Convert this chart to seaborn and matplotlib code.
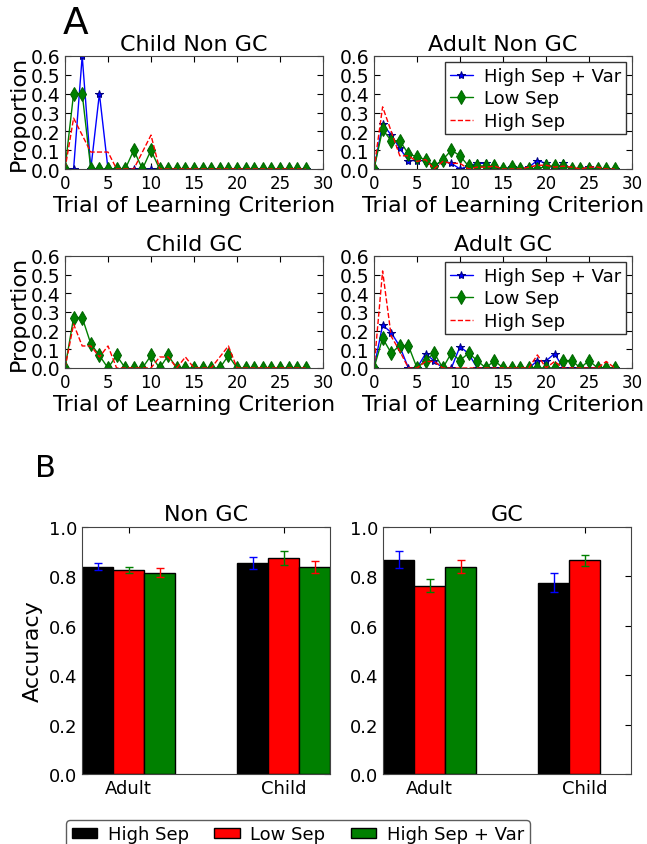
import matplotlib
matplotlib.use("Agg")
import matplotlib.pyplot as plt
from matplotlib.patches import Patch
import numpy as np
import pandas as pd
import seaborn as sns

sns.set_style("ticks", {"xtick.direction": "in", "ytick.direction": "in"})
plt.rcParams["font.family"] = ["DejaVu Sans"]
for k in ["text.color", "axes.labelcolor", "xtick.color", "ytick.color"]:
    plt.rcParams[k] = "black"

trials = list(range(29))

# panel A: proportion reaching criterion at each trial
child_nongc_hsv = [0, 0, .6, 0, .4, 0] + [0] * 23
child_nongc_low = [0, .4, .4, 0, 0, 0, 0, 0, .1, 0, .1] + [0] * 18
child_nongc_high = [0, .27, .18, .09, .09, .09, 0, 0, 0, .09, .18] + [0] * 18

adult_nongc_hsv = [0, .24, .18, .11, .045, .045, .045, .015, .045, .03, 0, .015, .03, .03, 0,
                   0, .01, 0, .01, .045, .03, 0, .03, 0, 0, .01, 0, 0, 0]
adult_nongc_low = [0, .21, .15, .15, .08, .065, .05, .015, .05, .1, .07, .015, .015, .015, .015,
                   0, .01, 0, 0, 0, .015, .015, .015, 0, 0, 0, 0, 0, 0]
adult_nongc_high = [0, .33, .2, .07, .07, .04, .05, 0, .04, .03, .03, 0, .01, .01, .015,
                    0, 0, 0, .01, .02, .02, .01, .015, .01, 0, .01, .01, 0, 0]

child_gc_low = [0, .27, .27, .13, .067, 0, .067, 0, 0, 0, .067, 0, .067, 0, 0,
                0, 0, 0, 0, .067, 0, 0, 0, 0, 0, 0, 0, 0, 0]
child_gc_high = [0, .235, .118, .118, .059, .118, 0, 0, 0, 0, 0, .059, .059, 0, .059,
                 0, 0, 0, .059, .118, 0, 0, 0, 0, 0, 0, 0, 0, 0]

adult_gc_hsv = [0, .23, .19, .115, 0, 0, .077, .038, 0, 0, .115, .077, 0, 0, 0,
                0, 0, 0, 0, .038, .038, .077, 0, 0, 0, 0, 0, 0, 0]
adult_gc_low = [0, .16, .08, .12, .12, 0, .04, .08, 0, .08, .04, .08, .04, 0, .04,
                0, 0, 0, 0, 0, 0, 0, .04, .04, 0, .04, 0, 0, 0]
adult_gc_high = [0, .52, .17, .09, 0, 0, .035, .035, 0, 0, 0, 0, 0, 0, 0,
                 0, 0, 0, 0, .07, 0, .035, 0, 0, 0, 0, 0, .035, 0]

# panel B: accuracy
groups = ["Adult", "Child"]
conditions = ["High Sep", "Low Sep", "High Sep + Var"]
nongc_acc = {"High Sep": [.84, .855], "Low Sep": [.825, .875], "High Sep + Var": [.815, .838]}
nongc_err = {"High Sep": [.015, .025], "Low Sep": [.013, .028], "High Sep + Var": [.018, .025]}
gc_acc = {"High Sep": [.868, .775], "Low Sep": [.763, .865], "High Sep + Var": [.84, np.nan]}
gc_err = {"High Sep": [.033, .038], "Low Sep": [.028, .022], "High Sep + Var": [.025, np.nan]}

bar_colors = {"High Sep": "black", "Low Sep": "red", "High Sep + Var": "green"}
err_colors = {"High Sep": "blue", "Low Sep": "green", "High Sep + Var": "red"}

W, H = 647, 845
fig = plt.figure(figsize=(W / 100, H / 100), dpi=100)


def px_axes(x0, y0, x1, y1):
    return fig.add_axes([x0 / W, 1 - y1 / H, (x1 - x0) / W, (y1 - y0) / H])


def style_box(ax):
    for s in ax.spines.values():
        s.set_visible(True)
        s.set_color("#444444")
    ax.tick_params(top=True, right=True, direction="in", labelsize=12, length=4)


line_panels = [
    ("Child Non GC", (65, 57, 323, 170), [child_nongc_hsv, child_nongc_low, child_nongc_high], False),
    ("Adult Non GC", (374, 57, 632, 170), [adult_nongc_hsv, adult_nongc_low, adult_nongc_high], True),
    ("Child GC", (65, 257, 323, 369), [None, child_gc_low, child_gc_high], False),
    ("Adult GC", (374, 257, 632, 369), [adult_gc_hsv, adult_gc_low, adult_gc_high], True),
]

for title, box, series, show_leg in line_panels:
    ax = px_axes(*box)
    hsv, low, high = series
    if hsv is not None:
        sns.lineplot(x=trials, y=hsv, ax=ax, color="blue", marker="*", markersize=6,
                     markeredgecolor="navy", linewidth=1, label="High Sep + Var")
    sns.lineplot(x=trials, y=low, ax=ax, color="green", marker="d", markersize=7,
                 markeredgecolor="darkgreen", linewidth=1, label="Low Sep")
    sns.lineplot(x=trials, y=high, ax=ax, color="red", linestyle="--", linewidth=1,
                 dashes=(6, 6), label="High Sep")
    ax.set_xlim(0, 30)
    ax.set_ylim(0, 0.6)
    ax.set_xticks(range(0, 31, 5))
    ax.set_yticks(np.arange(0, 0.61, 0.1))
    ax.set_yticklabels([f"{v:.1f}" for v in np.arange(0, 0.61, 0.1)])
    ax.set_title(title, fontsize=16, pad=4)
    ax.set_xlabel("Trial of Learning Criterion", fontsize=16, labelpad=2)
    if not show_leg:
        ax.set_ylabel("Proportion", fontsize=16, labelpad=1)
        ax.get_legend().remove()
    else:
        ax.legend(loc="upper right", fontsize=13, frameon=True, fancybox=False,
                  edgecolor="#333333", framealpha=1, borderpad=0.25, labelspacing=0.25,
                  handlelength=1.3, handletextpad=0.6, borderaxespad=0.35)
    style_box(ax)
    ax.tick_params(axis="y", labelsize=13.5)

fig.text(63 / W, 1 - 24 / H, "A", fontsize=27, va="center", ha="left")
fig.text(35 / W, 1 - 469 / H, "B", fontsize=22, va="center", ha="left")

bar_panels = [
    ("Non GC", (82, 528, 330, 775), nongc_acc, nongc_err, True),
    ("GC", (383, 528, 631, 775), gc_acc, gc_err, False),
]

for title, box, acc, err, first in bar_panels:
    ax = px_axes(*box)
    df = pd.DataFrame([(g, c, acc[c][i]) for c in conditions for i, g in enumerate(groups)],
                      columns=["group", "cond", "acc"])
    sns.barplot(data=df, x="group", y="acc", hue="cond", hue_order=conditions,
                palette=bar_colors, errorbar=None, width=0.6, edgecolor="black",
                linewidth=1, saturation=1, ax=ax)
    for j, c in enumerate(conditions):
        xs = np.arange(len(groups)) + (j - 1) * 0.2
        ax.errorbar(xs, acc[c], yerr=err[c], fmt="none", ecolor=err_colors[c],
                    elinewidth=1, capsize=3, capthick=1)
    ax.set_xlim(-0.3, 1.3)
    ax.set_ylim(0, 1.0)
    ax.set_yticks(np.arange(0, 1.01, 0.2))
    ax.set_yticklabels([f"{v:.1f}" for v in np.arange(0, 1.01, 0.2)])
    ax.set_title(title, fontsize=16, pad=5)
    ax.set_xlabel("")
    ax.set_ylabel("Accuracy" if first else "", fontsize=16)
    ax.get_legend().remove()
    style_box(ax)
    ax.tick_params(axis="y", labelsize=13)
    ax.tick_params(axis="x", labelsize=13)

handles = [Patch(facecolor=bar_colors[c], edgecolor="black", label=c) for c in conditions]
fig.legend(handles=handles, loc="upper center", bbox_to_anchor=(298 / W, 1 - 812 / H),
           ncol=3, fontsize=13, frameon=True, fancybox=True, edgecolor="#333333",
           handlelength=1.4, handleheight=0.5, columnspacing=1.4, borderpad=0.3,
           handletextpad=0.6)

fig.savefig("out.png", dpi=100)
